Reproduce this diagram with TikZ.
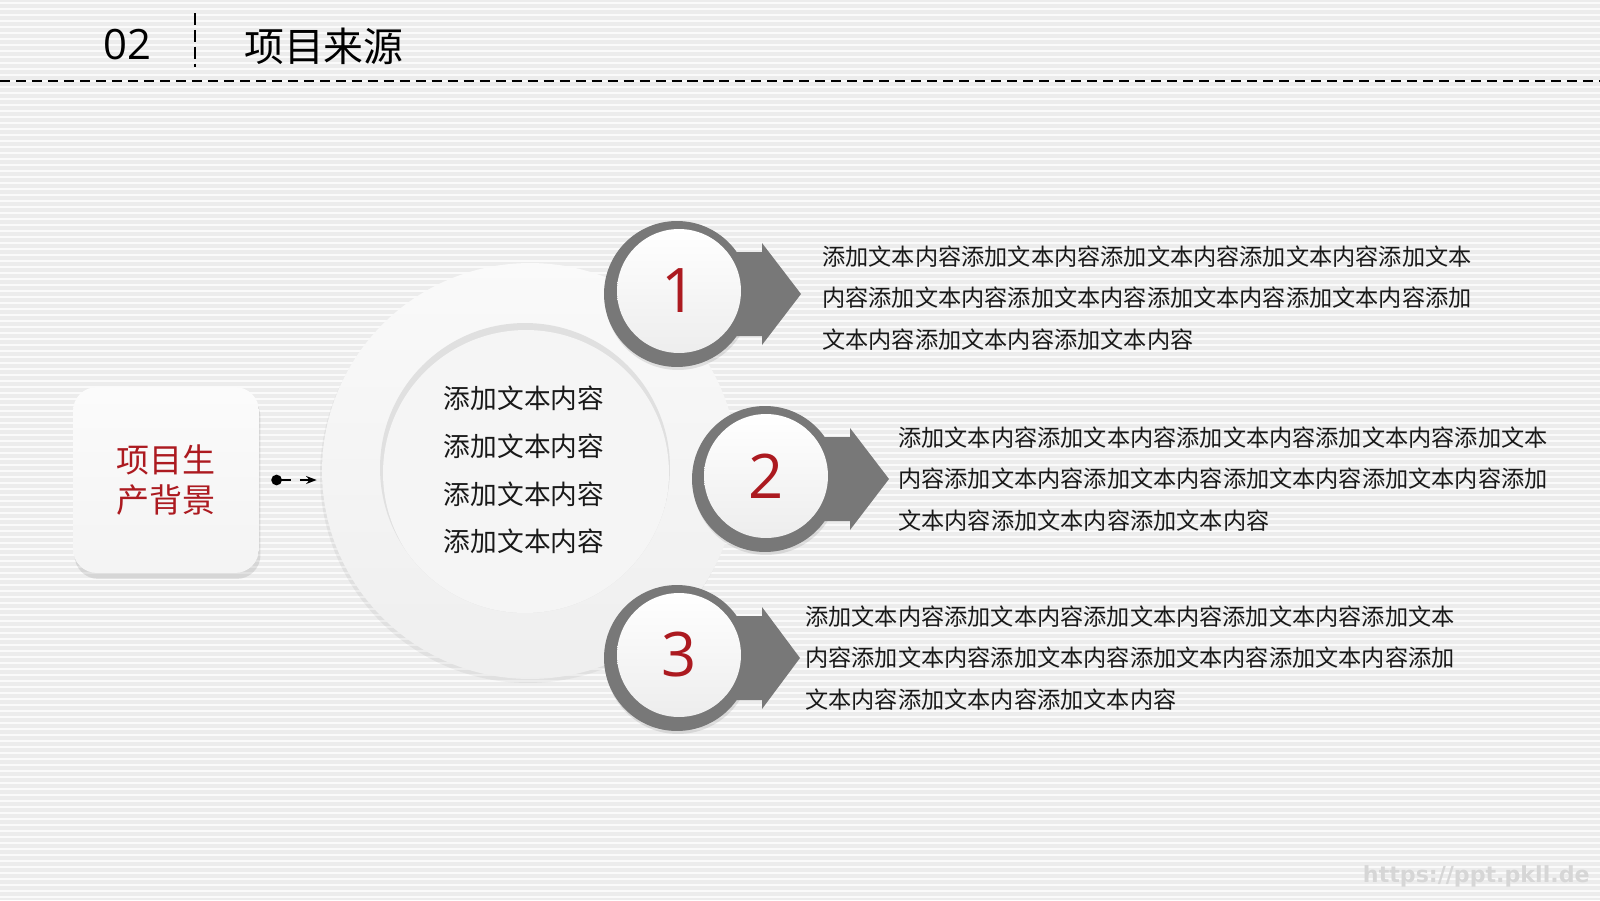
\documentclass[tikz,border=0pt]{standalone}
\usepackage{fontspec}
\setmainfont{Noto Sans CJK SC}
\newfontfamily\numfont{Open Sans}
\newfontfamily\markfont{DejaVu Sans}
\usepackage{tikz}
\usetikzlibrary{shapes,arrows.meta,positioning,calc,shadows}

\definecolor{bgGray}{RGB}{236,236,236}
\definecolor{ringGray}{RGB}{120,120,120}
\definecolor{titleRed}{RGB}{172,26,32}
\definecolor{textDark}{RGB}{25,25,25}

\begin{document}
\begin{tikzpicture}[x=0.02cm, y=-0.02cm]
        \tikzstyle{stripe} = [white, line width=0.9pt, opacity=0.75]
        \tikzstyle{card} = [rectangle, rounded corners=0.48cm, top color=gray!3, bottom color=gray!9, minimum width=3.72cm, minimum height=3.72cm, align=center, text=titleRed, font=\fontsize{18.8}{22.5}\selectfont, drop shadow={shadow xshift=0.03cm, shadow yshift=-0.12cm, opacity=0.2}]
        \tikzstyle{hubring} = [circle, inner sep=0, minimum size=8.32cm, top color=gray!4, bottom color=gray!13, drop shadow={shadow xshift=-0.04cm, shadow yshift=-0.08cm, opacity=0.1}]
        \tikzstyle{ring} = [circle, inner sep=0, minimum size=2.92cm, fill=ringGray, drop shadow={shadow xshift=0.02cm, shadow yshift=-0.06cm, opacity=0.2}]
        \tikzstyle{disc} = [circle, inner sep=0, minimum size=2.48cm, top color=white, bottom color=gray!14, text=titleRed, font=\numfont\fontsize{35}{35}\selectfont]
        \tikzstyle{desc} = [inner sep=0, align=left, text=textDark, font=\fontsize{13.2}{23.8}\selectfont]
        \tikzstyle{line} = [draw, line width=1.5pt, dash pattern=on 6pt off 5pt, {Circle[length=6pt]}-{Stealth[length=6pt]}]
        
        % background
        \useasboundingbox (0,0) rectangle (1600,900);
        \fill[bgGray] (0,0) rectangle (1600,900);
        \foreach \y in {3,9,...,897}
            \draw[stripe] (0,\y) -- (1600,\y);
        
        % header
        \node [font=\numfont\fontsize{23.8}{24}\selectfont] (secno) at (127,45) {02};
        \node [anchor=west, font=\fontsize{22.7}{23}\selectfont] (title) at (238,46) {项目来源};
        \draw [line width=1.7pt, dash pattern=on 6.8pt off 2.8pt] (195,13) -- (195,67);
        \draw [line width=1.4pt, dash pattern=on 5.7pt off 3.4pt] (0,81) -- (1600,81);
        
        % left card and hub
        \node [card] (source) at (166,480) {项目生\\产背景};
        \node [hubring] (hub) at (530,471) {};
        \node [circle, inner sep=0, minimum size=5.8cm, fill=gray!24] (core) at (525,468) {};
        \begin{scope}
            \clip (core.center) circle (2.9cm);
            \fill [gray!8] ($(core.center)+(1,5)$) circle (2.86cm);
        \end{scope}
        \node [align=center, text=textDark, font=\fontsize{15.2}{27.2}\selectfont] (points) at (524,470) {添加文本内容\\添加文本内容\\添加文本内容\\添加文本内容};
        
        \path [line] ($(source.east)+(12,0)$) -- ($(source.east -| hub.west)+(-5,0)$);
        
        % numbered rings
        \node [ring] (ring1) at (677,294) {};
        \node [ring] (ring2) at (765,479) {};
        \node [ring] (ring3) at (677,658) {};
        
        \coordinate (tip1) at ($(ring1.center)+(124,0)$);
        \coordinate (tip2) at ($(ring2.center)+(124,0)$);
        \coordinate (tip3) at ($(ring3.center)+(123,0)$);
        
        \fill [ringGray] ($(ring1.center)+(30,-42)$) -- ++(55,0) -- ++(0,-9) -- (tip1) -- ($(ring1.center)+(85,51)$) -- ++(0,-9) -- ($(ring1.center)+(30,42)$) -- cycle;
        \fill [ringGray] ($(ring2.center)+(30,-42)$) -- ++(55,0) -- ++(0,-9) -- (tip2) -- ($(ring2.center)+(85,51)$) -- ++(0,-9) -- ($(ring2.center)+(30,42)$) -- cycle;
        \fill [ringGray] ($(ring3.center)+(30,-42)$) -- ++(55,0) -- ++(0,-9) -- (tip3) -- ($(ring3.center)+(85,51)$) -- ++(0,-9) -- ($(ring3.center)+(30,42)$) -- cycle;
        
        \node [disc] (num1) at ($(ring1.center)+(2,-3)$) {1};
        \node [disc] (num2) at ($(ring2.center)+(1,-3)$) {2};
        \node [disc] (num3) at ($(ring3.center)+(2,-3)$) {3};
        
        % descriptions
        \node [desc, right=0.42cm of tip1, yshift=-0.08cm] (desc1) {添加文本内容添加文本内容添加文本内容添加文本内容添加文本\\内容添加文本内容添加文本内容添加文本内容添加文本内容添加\\文本内容添加文本内容添加文本内容};
        \node [desc, right=0.18cm of tip2] (desc2) {添加文本内容添加文本内容添加文本内容添加文本内容添加文本\\内容添加文本内容添加文本内容添加文本内容添加文本内容添加\\文本内容添加文本内容添加文本内容};
        \node [desc, right=0.1cm of tip3] (desc3) {添加文本内容添加文本内容添加文本内容添加文本内容添加文本\\内容添加文本内容添加文本内容添加文本内容添加文本内容添加\\文本内容添加文本内容添加文本内容};
        
        \node [anchor=east, inner sep=0, text=gray!32, font=\markfont\bfseries\fontsize{12.6}{13}\selectfont] (mark) at (1590,876) {https://ppt.pkll.de};
    \end{tikzpicture}
\end{document}
